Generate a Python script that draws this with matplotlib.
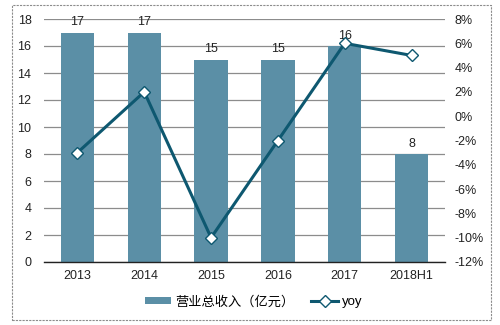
import matplotlib
matplotlib.use("Agg")
import matplotlib.pyplot as plt
from matplotlib.patches import Rectangle
from matplotlib.lines import Line2D
from matplotlib.patches import Patch
from matplotlib.ticker import FuncFormatter, MultipleLocator

categories = ["2013", "2014", "2015", "2016", "2017", "2018H1"]
revenue = [17, 17, 15, 15, 16, 8]
yoy = [-3, 2, -10, -2, 6, 5]
bar_label = "营业总收入（亿元）"
line_label = "yoy"

plt.rcParams['font.family'] = ['Liberation Sans', 'Noto Sans CJK SC', 'DejaVu Sans']

W, H = 500, 325
fig = plt.figure(figsize=(W / 100, H / 100), dpi=100)
ax = fig.add_axes([44 / W, 1 - 262 / H, (445 - 44) / W, (262 - 19) / H])
ax2 = ax.twinx()

bar_color = "#5b8fa6"
line_color = "#0e5870"
x = list(range(len(categories)))

ax.bar(x, revenue, width=0.5, color=bar_color, zorder=2)
for xi, v in zip(x, revenue):
    ax.annotate(str(v), (xi, v), xytext=(0, 3), textcoords="offset points",
                ha="center", va="bottom", fontsize=9, color="#222222")

ax.set_xlim(-0.5, len(categories) - 0.5)
ax.set_ylim(0, 18)
ax.yaxis.set_major_locator(MultipleLocator(2))
ax.set_xticks(x)
ax.set_xticklabels(categories)
ax.grid(axis="y", color="#8c8c8c", linewidth=0.9, zorder=0)
ax.set_axisbelow(True)
for s in ["top", "right", "left"]:
    ax.spines[s].set_visible(False)
ax.spines["bottom"].set_color("#222222")
ax.spines["bottom"].set_linewidth(1.0)
ax.tick_params(axis="x", length=0, labelsize=9, pad=6, colors="#222222")
ax.tick_params(axis="y", length=0, labelsize=9, pad=9, colors="#222222")

ax2.plot(x, yoy, color=line_color, linewidth=2.2, marker="D", markersize=6.5,
         markerfacecolor="white", markeredgecolor=line_color, markeredgewidth=1.0, zorder=3)
ax2.set_ylim(-12, 8)
ax2.yaxis.set_major_locator(MultipleLocator(2))
ax2.yaxis.set_major_formatter(FuncFormatter(lambda v, p: f"{int(round(v))}%"))
for s in ["top", "right", "left", "bottom"]:
    ax2.spines[s].set_visible(False)
ax2.tick_params(axis="y", length=0, labelsize=9, pad=7, colors="#222222")

handles = [Patch(facecolor=bar_color, edgecolor="none"),
           Line2D([0], [0], color=line_color, linewidth=2.2, marker="D", markersize=6,
                  markerfacecolor="white", markeredgecolor=line_color)]
fig.legend(handles, [bar_label, line_label], loc="center", bbox_to_anchor=(253.5 / W, 1 - 302 / H),
           ncol=2, frameon=False, fontsize=9.5, handlelength=2.0, handleheight=0.5,
           columnspacing=1.3, handletextpad=0.3)

fig.patches.append(Rectangle((12 / W, 1 - 320 / H), (491 - 12) / W, (320 - 5) / H,
                             transform=fig.transFigure, fill=False, edgecolor="#8c8c8c",
                             linewidth=0.8, linestyle=(0, (2, 1))))

fig.savefig("out.png", dpi=100)
